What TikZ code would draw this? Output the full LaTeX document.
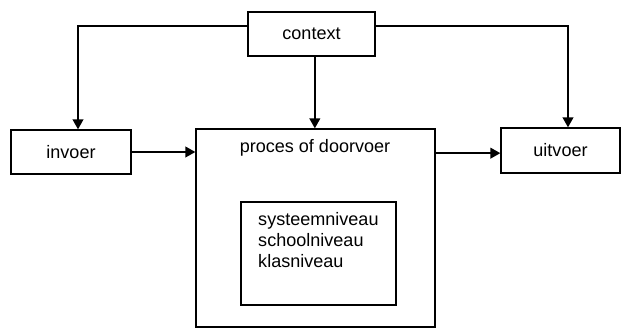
\documentclass[tikz,border=0pt]{standalone}
\usepackage{fontspec}
\setmainfont{Liberation Sans}
\usetikzlibrary{arrows.meta,positioning}
\tikzset{
  tekst/.style={font=\fontsize{15.4}{17.7}\selectfont,text=black},
  blok/.style={draw=black,fill=white,line width=1.1pt,font=\fontsize{15.4}{17.7}\selectfont},
  arr/.style={-{Triangle[length=3mm,width=3.2mm]},draw=black,line width=1.6pt}
}
\begin{document}
\begin{tikzpicture}[x=1cm,y=1cm]
\path[use as bounding box] (0,0) rectangle (18.63,9.9);
\node[blok,minimum width=3.81cm,minimum height=1.32cm] (ctx) at (9.345,8.88) {context};
\node[blok,minimum width=3.6cm,minimum height=1.32cm] (invoer) at (2.13,5.34) {invoer};
\node[blok,minimum width=3.57cm,minimum height=1.35cm] (uitvoer) at (16.815,5.385) {uitvoer};
\node[blok,minimum width=7.17cm,minimum height=5.94cm] (proces) at (9.465,3.06) {};
\node[tekst] (proctitle) at (9.45,5.46) {proces of doorvoer};
\node[blok,minimum width=4.65cm,minimum height=3.09cm] (niveaus) at (9.555,2.295) {};
\node[tekst,align=left,anchor=north west,inner sep=0pt] (niveautekst) at (7.74,3.52) {systeemniveau\\schoolniveau\\klasniveau};
\draw[arr] ([yshift=0.24cm]ctx.west) -| ([xshift=0.21cm]invoer.north);
\draw[arr] ([yshift=0.24cm]ctx.east) -| ([xshift=0.225cm]uitvoer.north);
\draw[arr] ([xshift=0.1cm]ctx.south) -- ([xshift=0.1cm]ctx.south |- proces.north);
\draw[arr] (invoer.east) -- (invoer.east -| proces.west);
\draw[arr] ([yshift=-0.08cm]uitvoer.west -| proces.east) -- ([yshift=-0.08cm]uitvoer.west);
\end{tikzpicture}
\end{document}
